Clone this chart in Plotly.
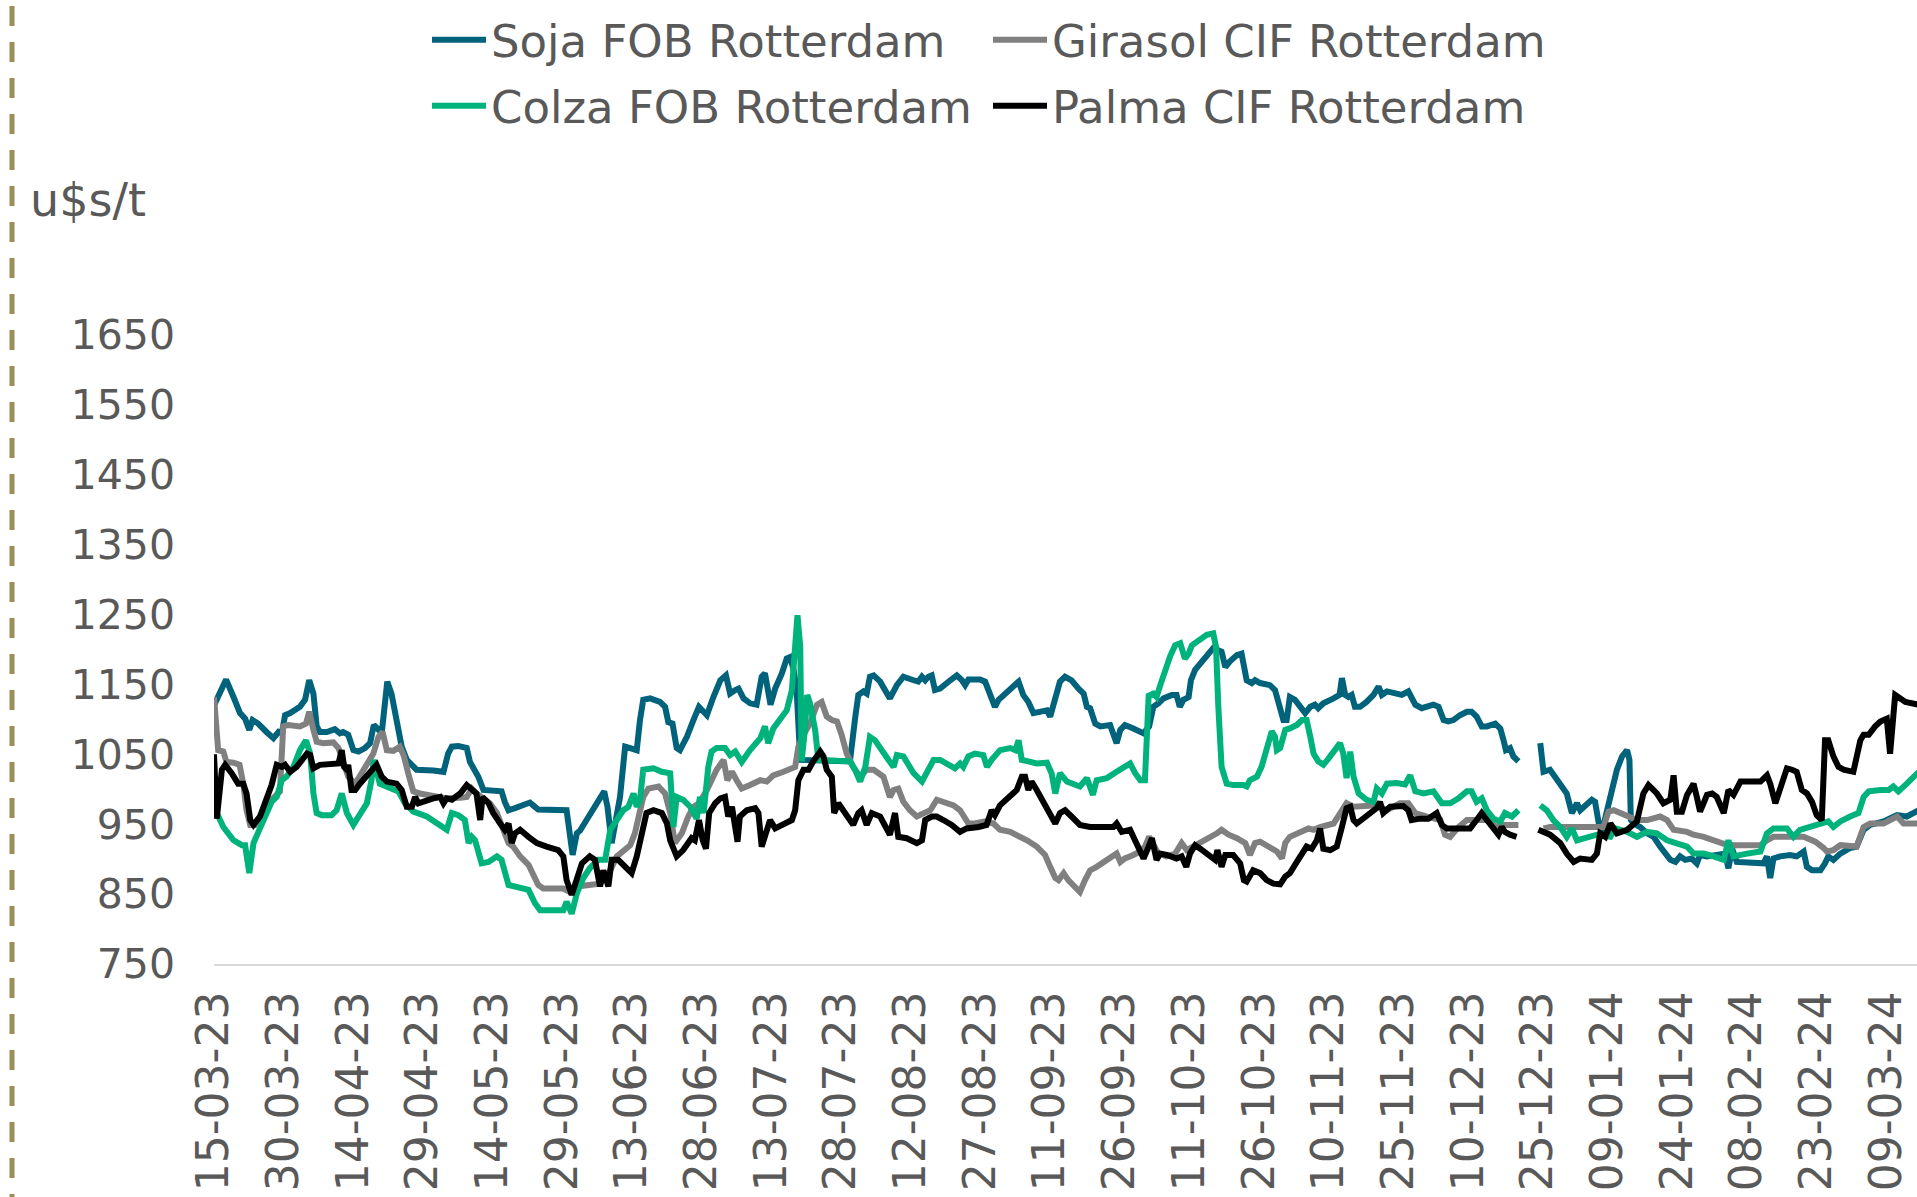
import pandas as pd
import plotly.graph_objects as go

BASE = pd.Timestamp("2023-03-15")
GAP = None

# (days since 15-03-2023, US$/t)
soja = [(0,1120),(2.6,1157),(4.2,1132),(5.6,1109),(6.7,1101),(7.6,1085),(8.3,1099),(9.5,1094),(11.3,1082),(12.8,1073),(13.9,1082),(14.6,1080),(15.3,1106),(16.4,1109),(18.5,1118),(19.6,1128),(20.5,1156),(21.4,1137),(22.1,1090),(22.8,1082),(24.3,1082),(26.0,1086),(27.1,1080),(27.8,1082),(28.9,1078),(30.0,1056),(31.1,1054),(32.5,1059),(33.6,1066),(34.4,1092),(35.2,1087),(36.1,1080),(37.3,1154),(38.2,1137),(39.3,1099),(40.4,1061),(41.5,1042),(42.6,1035),(43.6,1028),(47.2,1027),(49.4,1025),(50.4,1051),(51.2,1061),(52.6,1062),(54.4,1059),(55.1,1039),(55.8,1032),(56.9,1018),(58.0,999),(61.9,997),(62.6,982),(63.4,970),(64.8,973),(66.2,977),(68.0,981),(68.7,977),(69.8,971),(75.9,970),(76.6,937),(77.2,906),(78.1,937),(78.8,941),(80.2,956),(82.0,975),(84.0,997),(84.7,975),(85.6,923),(87.4,989),(88.5,1061),(89.6,1059),(91.0,1056),(91.7,1099),(92.4,1128),(93.9,1130),(96.0,1125),(97.1,1118),(97.8,1096),(98.7,1094),(99.6,1059),(100.3,1056),(101.8,1075),(103.2,1099),(104.4,1118),
        (105.4,1111),(106.1,1106),(107.5,1132),(109.0,1156),(110.2,1163),(111.1,1137),(112.2,1142),(112.9,1144),(114.0,1130),(115.4,1123),(116.8,1121),(117.9,1161),(118.6,1166),(119.3,1137),(119.8,1121),(120.8,1144),(122.2,1165),(123.3,1187),(124.0,1189),(124.7,1173),(125.4,1144),(126.2,1042),(136.9,1040),(138.0,1101),(138.7,1135),(139.8,1140),(140.5,1137),(141.2,1161),(142.0,1163),(143.4,1154),(145.5,1130),(147.0,1149),(148.4,1161),(150.6,1156),(151.6,1154),(152.4,1161),(153.1,1156),(153.8,1161),(154.5,1163),(155.2,1142),(156.3,1144),(158.5,1156),(159.9,1163),(161.0,1156),(161.7,1149),(162.4,1157),(164.9,1157),(166.0,1154),(167.1,1137),(168.1,1118),(168.9,1128),(171.4,1142),(173.2,1154),(174.2,1135),(175.3,1125),(176.4,1109),(177.8,1111),(179.3,1113),(180.0,1104),(180.7,1123),(182.1,1154),(183.2,1161),(184.6,1156),(186.1,1144),(187.2,1137),(187.9,1118),(188.6,1116),(189.7,1094),(190.8,1090),(192.9,1092),(193.6,1080),(194.3,1066),(195.1,1085),(196.1,1092),(197.9,1087),(200.1,1080),(201.3,1090),
        (202.2,1118),(203.3,1123),(204.4,1130),(206.2,1135),(207.2,1135),(207.9,1118),(208.7,1128),(209.8,1132),(210.3,1156),(211.2,1171),(212.3,1180),(213.7,1192),(215.1,1202),(216.9,1197),(217.7,1175),(218.7,1183),(220.2,1192),(221.2,1194),(222.3,1156),(223.4,1152),(224.1,1156),(225.2,1152),(227.3,1149),(228.4,1142),(229.5,1113),(230.2,1099),(230.9,1099),(231.6,1132),(232.7,1128),(233.8,1118),(234.9,1109),(236.0,1118),(237.0,1121),(237.7,1116),(238.8,1123),(241.0,1130),(242.3,1135),(242.8,1159),(243.5,1135),(244.2,1132),(244.9,1135),(245.6,1118),(246.7,1118),(248.1,1125),(249.6,1135),(250.7,1147),(251.4,1135),(252.5,1140),(253.9,1137),(255.7,1135),(257.1,1140),(258.6,1121),(260.0,1116),(261.1,1118),(262.5,1121),(263.6,1118),(264.7,1099),(265.7,1097),(266.8,1099),(268.2,1106),(269.7,1111),(270.7,1111),(271.8,1104),(272.9,1090),(274.0,1090),(275.8,1094),(276.9,1087),(277.6,1070),(278.1,1056),(279.0,1059),(279.7,1047),(280.8,1040),
        (283,GAP),
        (285.5,1066),(286.2,1025),(287.6,1028),(289.4,1011),(291.2,994),(292.3,966),(293.4,980),(294.1,970),(295.5,977),(296.6,985),(297.3,982),(298.1,951),(298.8,940),(299.8,966),(300.9,999),(302.0,1028),(303.1,1047),(304.2,1056),(304.7,1042),(305.0,956),(305.6,951),(307.0,946),(308.5,937),(309.9,932),(311.3,918),(312.4,908),(313.5,899),(314.6,896),(315.6,904),(316.7,899),(318.1,901),(319.2,894),(319.9,906),(321.4,904),(323.5,906),(325.3,908),(326.0,887),(326.8,915),(327.8,896),(330.0,896),(333.6,894),(334.3,904),(335.0,873),(335.7,901),(337.1,904),(339.3,906),(340.7,904),(342.2,911),(342.9,889),(344.0,884),(345.8,884),(346.8,894),(347.5,904),(348.6,899),(350.1,908),(352.2,916),(353.6,918),(355.1,942),(356.5,949),(359.4,954),(362.3,963),(364.4,961),(367,970)]

girasol = [(0,1132),(0.9,1056),(2.0,1054),(2.7,1039),(4.2,1038),(5.5,1035),(6.3,1008),(7.0,970),(7.8,949),(8.8,949),(10.3,966),(12.4,985),(14.2,997),(14.9,1090),(16.0,1092),(18.5,1090),(19.8,1094),(20.5,1111),(21.4,1085),(22.1,1068),(23.5,1066),(25.7,1067),(26.8,1059),(27.8,1042),(28.9,1018),(30.4,1008),(32.1,1028),(34.3,1051),(35.4,1075),(36.3,1082),(37.2,1056),(38.6,1055),(40.0,1061),(40.9,1047),(41.8,1023),(42.9,997),(44.3,994),(47.2,990),(50.1,987),(53.0,988),(54.4,989),(55.5,1001),(56.5,994),(58.0,987),(59.4,980),(60.9,966),(62.3,942),(63.4,923),(64.4,918),(65.9,904),(67.7,892),(68.7,880),(69.8,863),(70.9,858),(75.2,858),(76.6,853),(78.1,861),(83.1,865),(85.3,884),(86.7,904),(88.1,913),(89.6,920),(90.6,937),(91.6,966),(92.4,989),(93.5,1001),(95.7,1004),(97.1,994),(98.2,966),(99.2,923),(100.7,937),(102.1,961),(103.2,975),(104.4,980),
           (106.1,999),(108.2,1028),(109.7,1042),(110.5,1013),(111.5,1025),(112.5,1013),(113.6,1001),(115.4,1006),(117.6,1013),(119.0,1011),(120.4,1020),(122.6,1025),(124.0,1030),(125.1,1032),(125.8,1061),(126.9,1078),(128.3,1094),(129.8,1121),(130.8,1125),(131.9,1104),(133.0,1099),(134.1,1097),(135.1,1078),(136.2,1051),(137.6,1032),(139.1,1018),(140.5,1028),(142.0,1028),(144.1,1018),(145.5,989),(146.3,999),(147.3,1001),(148.4,982),(149.8,970),(151.3,961),(152.7,966),(154.2,970),(155.6,985),(157.0,982),(159.2,977),(160.6,970),(161.7,956),(162.4,951),(163.8,951),(166.0,954),(167.8,951),(169.2,942),(171.4,939),(172.8,935),(173.9,930),(175.0,927),(177.1,918),(178.9,906),(180.0,889),(181.1,873),(181.8,870),(182.9,880),(183.9,870),(185.4,861),(186.4,853),(187.5,870),(188.6,884),(190.0,889),(191.5,896),(193.3,904),(194.3,908),(195.1,896),(196.1,901),(197.9,906),(199.4,911),(200.4,918),(201.3,932),
           (203.3,908),(205.1,904),(206.9,908),(208.3,923),(209.4,913),(210.8,918),(212.3,923),(214.4,932),(215.9,937),(216.9,942),(218.4,935),(220.2,930),(222.0,923),(223.0,906),(224.1,923),(225.2,925),(227.3,918),(228.8,911),(229.9,901),(230.6,923),(231.6,932),(233.8,939),(235.6,944),(236.7,942),(238.1,946),(241.0,951),(243.8,980),(245.3,975),(247.4,975),(250.3,977),(252.5,970),(255.3,980),(257.1,980),(258.6,966),(261.1,961),(264.0,956),(265.0,935),(266.1,932),(267.9,946),(269.7,956),(274.7,956),(275.8,946),(276.9,949),(280.8,949),
           (283,GAP),
           (286.2,944),(287.6,946),(299.1,946),(300.2,968),(301.3,970),(302.7,966),(304.2,961),(306.3,956),(308.5,956),(311.3,961),(312.8,956),(314.2,942),(317.1,939),(318.5,935),(320.7,932),(322.8,927),(325.0,922),(327.1,920),(332.9,920),(334.3,927),(335.7,932),(342.2,932),(344.7,925),(346.5,916),(347.2,911),(348.6,913),(350.1,920),(353.6,918),(355.1,946),(356.5,951),(359.4,951),(362.3,961),(363.7,951),(367,951)]

colza = [(0,975),(2.0,946),(4.2,927),(6.0,920),(6.7,920),(7.6,880),(8.5,923),(9.9,946),(11.3,966),(12.4,982),(13.5,989),(14.6,1013),(15.6,1018),(17.1,1032),(18.5,1056),(19.8,1070),(20.7,1051),(21.4,994),(22.1,966),(23.2,963),(25.3,963),(26.4,970),(27.5,994),(28.6,966),(30.0,949),(31.4,963),(32.9,980),(33.9,1013),(34.4,1042),(35.7,1008),(37.2,1004),(39.7,997),(41.1,980),(42.9,968),(45.8,961),(48.7,949),(50.1,942),(51.2,966),(52.6,963),(54.0,956),(54.8,923),(55.5,932),(56.2,927),(57.6,894),(59.1,896),(60.9,904),(61.9,899),(63.4,863),(64.8,861),(67.7,856),(69.1,837),(70.2,827),(75.2,827),(75.9,839),(77.0,822),(78.1,851),(79.5,873),(80.9,887),(82.7,899),(84.2,899),(85.3,942),(86.7,958),(88.1,970),(89.2,975),(90.3,994),(91.0,975),(91.7,985),(92.4,1028),(94.6,1030),(96.4,1025),(98.2,1023),(98.9,946),(99.6,989),(101.0,985),(102.5,975),(103.9,958),(104.6,989),
         (105.4,966),(106.4,1032),(107.1,1054),(108.2,1059),(110.0,1059),(111.1,1049),(112.2,1054),(113.6,1039),(115.4,1056),(117.6,1073),(118.6,1090),(119.3,1066),(120.4,1087),(121.9,1101),(123.3,1113),(124.4,1142),(125.1,1204),(125.6,1249),(126.2,1204),(126.5,1040),(127.2,1085),(127.7,1135),(128.3,1123),(129.4,1085),(130.1,1042),(136.9,1040),(138.0,1028),(139.1,1011),(140.2,1032),(141.2,1075),(142.3,1070),(144.1,1051),(145.2,1042),(146.3,1032),(147.0,1049),(148.4,1047),(150.6,1023),(152.4,1011),(153.4,1025),(154.9,1042),(156.3,1042),(158.1,1035),(159.5,1030),(160.6,1037),(161.3,1032),(162.4,1047),(163.8,1051),(165.6,1049),(166.4,1032),(167.4,1042),(169.2,1056),(171.4,1059),(172.5,1056),(173.2,1070),(173.9,1042),(175.3,1040),(177.1,1037),(179.3,1038),(180.3,1023),(181.1,994),(182.1,1023),(183.6,1011),(186.4,1004),(187.9,1016),(189.2,992),(190.0,1013),(192.2,1016),(194.3,1025),(195.8,1032),(197.2,1037),(198.3,1023),(199.4,1013),(200.4,1013),(201.2,1134),
         (202.2,1137),(202.9,1132),(203.7,1149),(204.7,1171),(205.8,1190),(206.9,1206),(208.0,1209),(209.0,1187),(209.8,1194),(210.5,1206),(212.3,1214),(213.7,1221),(215.1,1223),(215.7,1204),(216.2,1118),(216.9,1032),(218.0,1008),(219.4,1006),(221.6,1006),(222.3,1004),(223.0,1013),(224.5,1018),(225.5,1032),(226.6,1056),(227.7,1083),(228.4,1075),(228.8,1056),(229.5,1059),(230.6,1085),(231.6,1087),(233.1,1092),(234.2,1099),(235.2,1099),(236.0,1075),(236.7,1051),(237.7,1040),(238.8,1035),(239.9,1044),(241.3,1056),(242.4,1066),(243.1,1051),(243.8,1016),(244.6,1054),(245.3,1018),(246.4,994),(248.1,985),(249.6,982),(250.3,1001),(251.4,994),(252.5,1008),(254.6,1009),(256.4,1007),(257.5,1020),(258.6,997),(260.4,994),(262.5,997),(264.3,980),(266.1,980),(267.9,987),(269.7,997),(270.7,997),(271.8,982),(272.9,987),(274.0,970),(275.4,958),(276.9,954),(277.9,966),(279.4,961),(280.8,970),
         (283,GAP),
         (285.5,977),(286.9,970),(288.3,956),(289.8,946),(291.2,932),(292.3,944),(293.4,927),(295.5,930),(297.7,935),(300.6,932),(301.6,944),(304.2,939),(306.3,932),(308.5,939),(310.6,937),(312.8,927),(314.6,923),(317.1,918),(318.5,908),(320.7,908),(322.8,904),(325.0,899),(326.0,927),(327.1,904),(330.0,908),(332.9,911),(334.3,937),(335.7,944),(338.6,944),(340.0,932),(341.4,942),(343.6,946),(345.8,949),(347.5,954),(348.6,946),(350.1,954),(352.2,961),(354.0,966),(355.1,989),(356.2,997),(358.7,999),(360.5,999),(361.5,1004),(362.6,997),(364.4,1008),(367,1025)]

palma = [(0,1050),(0.6,958),(1.7,1028),(2.4,1035),(3.8,1023),(5.2,1008),(6.3,1008),(7.0,994),(7.8,956),(8.5,949),(9.9,961),(11.3,985),(12.4,1006),(13.5,1035),(14.6,1032),(15.3,1035),(16.4,1025),(17.8,1032),(18.9,1042),(20.0,1051),(20.7,1049),(21.4,1030),(22.8,1035),(25.7,1035),(26.8,1037),(27.5,1056),(28.0,1032),(28.6,1028),(28.9,1035),(29.6,999),(30.4,999),(31.4,1008),(33.2,1023),(34.3,1032),(35.0,1035),(36.1,1018),(37.2,1011),(39.3,1008),(40.4,999),(41.5,975),(42.6,975),(43.3,989),(44.0,980),(47.2,987),(48.7,989),(49.4,980),(50.1,987),(51.2,985),(53.0,994),(54.4,1006),(55.5,1001),(56.5,994),(57.3,956),(57.8,989),(59.1,980),(60.1,966),(61.6,951),(62.6,942),(63.4,951),(64.1,923),(64.8,937),(65.9,942),(67.7,932),(69.5,923),(71.6,918),(74.1,913),(75.2,904),(75.9,870),(77.0,849),(78.1,870),(79.2,894),(80.9,904),(82.0,899),(83.1,861),(83.8,884),(84.9,861),(85.6,899),(87.0,899),(88.5,889),(89.9,880),(91.0,904),(92.1,937),(93.1,966),(94.6,970),(96.4,966),(97.5,951),(98.2,927),(99.6,904),(101.0,913),(102.8,930),(103.5,927),(104.4,956),
         (105.2,927),(105.9,915),(106.6,966),(107.9,980),(109.0,987),(110.0,989),(110.7,961),(111.5,975),(112.2,946),(112.7,925),(113.2,961),(114.7,970),(116.5,973),(117.2,966),(117.9,918),(118.6,932),(119.7,956),(120.8,944),(122.6,951),(124.4,956),(125.1,970),(125.8,1013),(126.9,1028),(128.0,1028),(129.0,1040),(130.5,1054),(131.2,1047),(131.9,1028),(133.0,1018),(133.5,966),(134.4,980),(135.5,970),(136.9,956),(137.6,949),(138.7,966),(139.4,970),(140.5,949),(141.6,966),(143.4,961),(144.8,946),(145.5,935),(146.6,966),(147.3,932),(149.1,930),(151.3,923),(152.4,927),(153.1,956),(154.5,961),(155.6,961),(157.0,956),(158.8,949),(160.6,939),(162.0,944),(164.6,946),(166.3,949),(167.4,970),(168.1,963),(169.2,977),(171.0,987),(172.8,999),(173.9,1018),(174.6,1018),(175.3,999),(176.0,1011),(177.1,999),(178.2,985),(180.0,961),(181.1,951),(182.1,966),(183.2,970),(184.6,961),(186.4,949),(188.6,946),(193.6,946),(194.3,951),(195.4,939),(197.2,942),(198.6,923),(200.1,901),(201.2,918),
         (201.9,930),(202.9,899),(203.7,908),(205.1,906),(207.2,901),(208.3,904),(209.3,889),(210.1,908),(211.2,920),(212.3,915),(213.7,908),(215.5,899),(216.0,913),(216.9,889),(217.7,906),(219.4,906),(220.9,894),(221.7,870),(222.3,868),(223.7,884),(225.2,880),(226.6,870),(228.1,865),(229.5,864),(230.6,875),(231.6,880),(233.1,896),(234.2,908),(235.2,918),(236.3,915),(237.4,927),(238.1,944),(238.8,915),(240.3,913),(241.7,918),(242.8,946),(243.8,973),(244.6,975),(245.3,956),(246.0,951),(247.4,958),(248.9,966),(250.3,973),(251.0,982),(251.7,966),(253.2,975),(254.6,975),(256.0,976),(257.1,970),(257.8,956),(259.6,958),(261.4,958),(263.2,966),(264.3,949),(265.4,944),(270.4,944),(271.8,956),(272.9,966),(274.0,956),(275.4,944),(276.5,935),(277.2,946),(277.9,939),(279.0,935),(280.4,932),
         (283,GAP),
         (285.1,942),(287.6,935),(289.8,923),(291.2,908),(292.7,896),(294.1,901),(296.6,899),(297.7,908),(298.4,937),(299.5,932),(300.6,951),(302.0,937),(304.2,942),(306.3,954),(307.7,994),(308.8,1006),(310.6,994),(312.0,980),(313.5,985),(314.2,1020),(314.9,968),(316.0,968),(317.1,992),(318.5,1008),(319.2,989),(319.9,968),(321.4,992),(322.5,994),(323.5,989),(325.0,966),(326.0,999),(327.1,992),(328.6,1011),(332.9,1011),(334.3,1020),(335.0,1008),(336.1,980),(337.1,999),(338.6,1030),(339.7,1028),(340.7,1025),(341.8,999),(342.9,994),(344.0,982),(345.0,963),(346.1,956),(346.8,1070),(347.5,1070),(348.6,1047),(349.7,1032),(350.8,1028),(352.9,1025),(354.4,1070),(355.1,1078),(356.2,1078),(357.6,1090),(358.7,1097),(360.1,1101),(360.8,1051),(361.9,1135),(363.0,1130),(364.1,1125),(367,1121)]

series_names = ["Soja FOB Rotterdam", "Girasol CIF Rotterdam", "Colza FOB Rotterdam", "Palma CIF Rotterdam"]
series_data = [soja, girasol, colza, palma]
series_colors = ["#00627B", "#808080", "#00B27B", "#000000"]
legend_ids = ["legend", "legend2", "legend3", "legend4"]

y_ticks = [750, 850, 950, 1050, 1150, 1250, 1350, 1450, 1550, 1650]
unit_label = "u$s/t"

FONT = "DejaVu Sans"
TXT = "#595959"

fig = go.Figure()
for name, data, color, lg in zip(series_names, series_data, series_colors, legend_ids):
    x = [BASE + pd.Timedelta(days=d) for d, _ in data]
    y = [v for _, v in data]
    fig.add_trace(go.Scatter(x=x, y=y, name=name, mode="lines",
                             line=dict(color=color, width=6), connectgaps=False,
                             legend=lg))

W, H = 1917, 1197
L, R, T, B = 214, 0, 335, 233

def legend_at(px, py):
    return dict(x=px / W, y=1 - py / H, xref="container", yref="container",
                xanchor="left", yanchor="middle", orientation="h",
                bgcolor="rgba(0,0,0,0)", itemwidth=54,
                font=dict(family=FONT, size=45, color=TXT))

pw = W - L - R
ph = H - T - B

fig.update_layout(
    width=W, height=H,
    margin=dict(l=L, r=R, t=T, b=B, pad=0),
    paper_bgcolor="white", plot_bgcolor="white",
    font=dict(family=FONT, size=41, color=TXT),
    showlegend=True,
    legend=legend_at(427, 40),
    legend2=legend_at(988, 40),
    legend3=legend_at(427, 106),
    legend4=legend_at(988, 106),
    xaxis=dict(type="date",
               range=[BASE, BASE + pd.Timedelta(days=366.6)],
               tick0=BASE, dtick=15 * 86400000, tickformat="%d-%m-%y",
               tickangle=-90, showgrid=False, zeroline=False,
               showline=True, linecolor="#D9D9D9", linewidth=2,
               ticks="", ticklabelstandoff=8,
               tickfont=dict(family=FONT, size=44, color=TXT)),
    yaxis=dict(range=[750, 1650], tickvals=y_ticks, showgrid=False,
               zeroline=False, showline=False, ticks="",
               ticklabelstandoff=38,
               tickfont=dict(family=FONT, size=41, color=TXT)),
    annotations=[dict(text=unit_label, xref="paper", yref="paper",
                      x=(28 - L) / pw, y=(H - B - 200) / ph,
                      xanchor="left", yanchor="middle", showarrow=False,
                      font=dict(family=FONT, size=46, color=TXT))],
    shapes=[dict(type="line", xref="paper", yref="paper",
                 x0=(12 - L) / pw, x1=(12 - L) / pw,
                 y0=(H - B + 30) / ph, y1=(H - B - H) / ph,
                 line=dict(color="#9A8F5B", width=5, dash="20px,16px"))],
)

fig.write_html("out.html",
               config={"displayModeBar": False},
               post_script="document.body.style.margin='0';document.body.style.overflow='hidden';")
